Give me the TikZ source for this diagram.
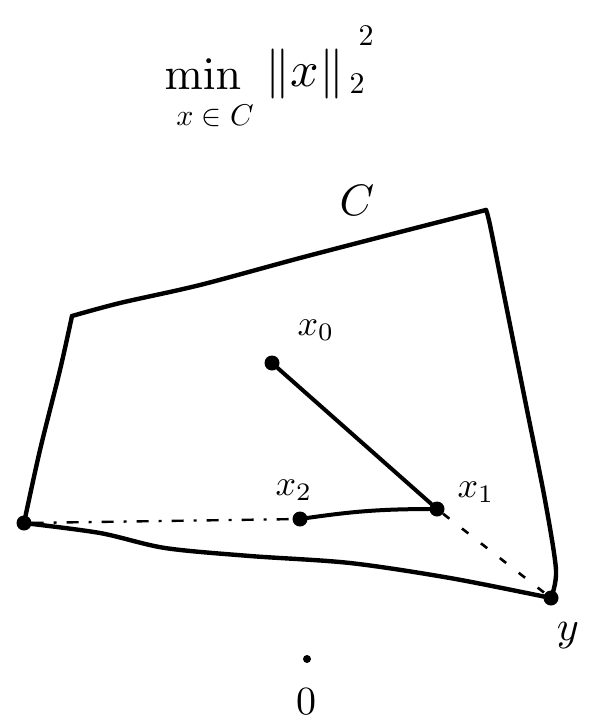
\documentclass[tikz,border=0pt]{standalone}
\begin{document}
\begin{tikzpicture}[x=1pt,y=-1pt,
  edge/.style={line width=4.4pt,line cap=round,line join=round},
  seg/.style={line width=4pt,line cap=round},
  pt/.style={circle,fill=black,inner sep=0pt,minimum size=15pt},
  lbl/.style={scale=3.6},
  obj/.style={inner sep=0pt},
  guide/.style={line width=2.4pt,dash pattern=on 12pt off 10pt on 3pt off 10pt},
  guide2/.style={line width=2.6pt,dash pattern=on 8pt off 16pt}]
\useasboundingbox (0,0) rectangle (595,725);
% corners
\coordinate (tl) at (72,316);
\coordinate (tr) at (486,210);
\node[pt] (bl) at (24,523) {};
\node[pt] (y) at (551,598) {};
% region C
\draw[edge] plot[smooth] coordinates {(tl) (120,303) (200,285) (300,258) (400,232) (tr)};
\draw[edge] plot[smooth] coordinates {(tr) (490,225) (505,300) (525,400) (545,500) (556,570) (y)};
\draw[edge] plot[smooth] coordinates {(bl) (100,533) (165,548) (250,556) (350,563) (450,578) (y)};
\draw[edge] plot[smooth] coordinates {(tl) (60,370) (40,450) (bl)};
% points
\node[pt] (x0) at (272,363) {};
\node[pt] (x1) at (437,509) {};
\node[pt] (x2) at (300,519) {};
\node[pt,minimum size=8pt] (o) at (307,659) {};
% segments
\draw[seg] (x0) -- (x1);
\draw[seg] (x2) to[bend left=4] (x1);
\draw[guide] (bl) -- (x2);
\draw[guide2] (x1) -- (y);
% labels
\node[lbl] (lx0) at (316,330) {$x_0$};
\node[lbl] (lx1) at (476,492) {$x_1$};
\node[lbl] (lx2) at (294,490) {$x_2$};
\node[scale=4.4] (lC) at (357,200) {$C$};
\node[scale=4.2] (ly) at (568,636) {$y$};
\node[scale=4] (lo) at (306,702) {$0$};
% objective
\node[obj,scale=4.6] (mn) at (203,74) {$\mathrm{min}$};
\node[obj,scale=3] (sub) at (215,116) {$x\in C$};
\node[obj,scale=5] (nrm) at (305,74) {$\|x\|$};
\node[obj,scale=3] (s2) at (357,84) {$2$};
\node[obj,scale=3] (p2) at (366,36) {$2$};
\end{tikzpicture}
\end{document}
